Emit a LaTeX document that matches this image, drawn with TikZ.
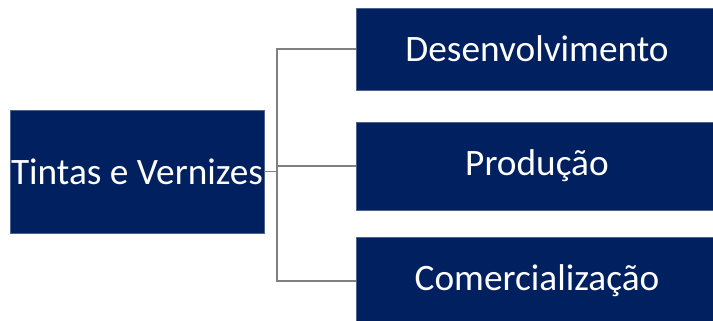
\documentclass[tikz,border=0pt]{standalone}
\usepackage{fontspec}
\setmainfont{Carlito}
\usepackage{tikz}
\definecolor{navy}{RGB}{0,32,96}
\definecolor{linegray}{RGB}{128,128,128}

\begin{document}
\begin{tikzpicture}[x=1pt, y=-1pt,
    box/.style={fill=navy, draw=navy!70!white, line width=0.6pt, text=white,
      font=\fontsize{37.3}{40}\selectfont, inner sep=0pt, anchor=center},
    conn/.style={draw=linegray, line width=1.8pt}]
    \useasboundingbox (0,0) rectangle (713,321);
    \node[box, minimum width=254pt, minimum height=123pt] (tv)  at (137,171.5) {Tintas e Vernizes};
    \node[box, minimum width=362pt, minimum height=82pt]  (des) at (537,49)    {Desenvolvimento};
    \node[box, minimum width=362pt, minimum height=88pt]  (pro) at (537,166)   {Produção};
    \node[box, minimum width=362pt, minimum height=88pt]  (com) at (537,281)   {Comercialização};
    \coordinate (fork) at (277,171.5);
    \draw[conn] (tv.east) -- (fork);
    \draw[conn] (fork) |- (des.west);
    \draw[conn] (fork) |- (pro.west);
    \draw[conn] (fork) |- (com.west);
  \end{tikzpicture}
\end{document}
